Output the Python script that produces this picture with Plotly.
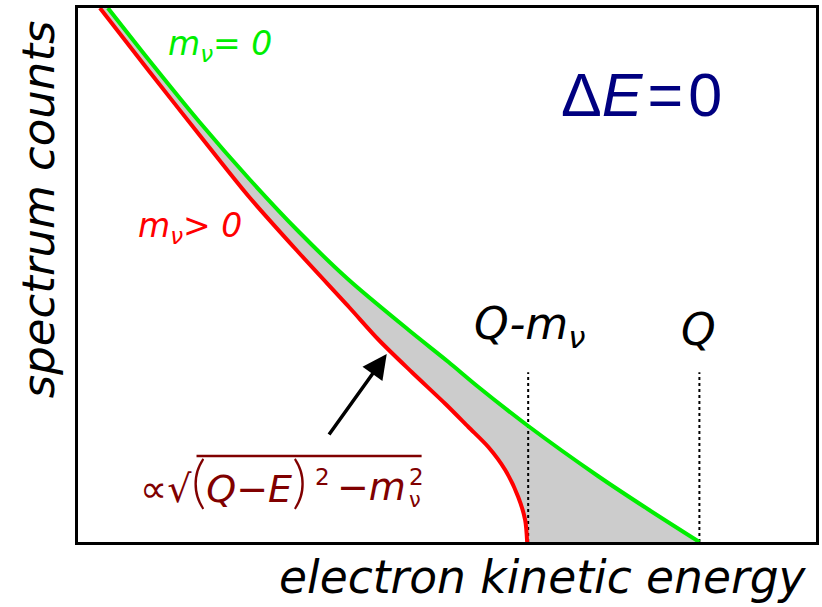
import plotly.graph_objects as go

# ---- data (energy in arbitrary units 0..100, counts 0..100) ----
green_x = [4.05, 9.72, 16.46, 23.21, 29.96, 36.71, 44.80, 50.20, 54.25, 61.00, 70.45, 77.19, 84.20]
green_y = [100.0, 90.07, 78.65, 67.98, 58.05, 49.06, 39.70, 33.71, 29.03, 21.72, 12.36, 6.18, 0.0]

red_x = [2.97, 9.72, 16.46, 23.08, 29.96, 36.71, 40.76, 45.21, 49.80, 52.90, 55.60, 57.89, 59.65, 60.59, 60.86]
red_y = [100.0, 88.01, 76.22, 64.79, 54.12, 44.01, 37.83, 31.84, 25.84, 21.54, 17.79, 13.48, 8.43, 4.12, 0.0]

marker_x = [61.0, 84.2]        # Q - m_nu, Q
marker_top = 31.8

W, H = 822, 607
L, R, T, B = 78, 819, 8, 542

def px(xp):
    return (xp - L) / (R - L) * 100.0

def py(yp):
    return (B - yp) / (B - T) * 100.0

GREEN = "#00ee00"
RED = "#ff0000"
FONT = "DejaVu Sans"
SM = 0.8

fig = go.Figure()

# shaded area between the two spectra (invisible boundary traces)
fig.add_trace(go.Scatter(x=red_x, y=red_y, mode="lines", line=dict(width=0, shape="spline", smoothing=SM),
                         hoverinfo="skip", showlegend=False))
fig.add_trace(go.Scatter(x=green_x, y=green_y, mode="lines", fill="tonexty", fillcolor="#cccccc",
                         line=dict(width=0, shape="spline", smoothing=SM),
                         hoverinfo="skip", showlegend=False))

# dotted markers
for mx in marker_x:
    fig.add_trace(go.Scatter(x=[mx, mx], y=[0, marker_top], mode="lines",
                             line=dict(color="black", width=2, dash="dot"),
                             showlegend=False, hoverinfo="skip"))

fig.add_trace(go.Scatter(x=red_x, y=red_y, mode="lines",
                         line=dict(color=RED, width=4, shape="spline", smoothing=SM), showlegend=False))
fig.add_trace(go.Scatter(x=green_x, y=green_y, mode="lines",
                         line=dict(color=GREEN, width=4, shape="spline", smoothing=SM), showlegend=False))

ann = []

def text(xp, yp, s, size, color="black", xanchor="left", yanchor="bottom", family=FONT, style="italic", angle=0, ref="data"):
    if ref == "data":
        ann.append(dict(x=px(xp), y=py(yp), xref="x", yref="y", text=s, showarrow=False,
                        xanchor=xanchor, yanchor=yanchor, textangle=angle,
                        font=dict(family=family, size=size, color=color, style=style)))
    else:
        ann.append(dict(x=(xp - L) / (R - L), y=(B - yp) / (B - T), xref="paper", yref="paper",
                        text=s, showarrow=False, xanchor=xanchor, yanchor=yanchor, textangle=angle,
                        font=dict(family=family, size=size, color=color, style=style)))

text(166, 69, "m<sub>ν</sub>= 0", 33, GREEN)
text(136, 251, "m<sub>ν</sub>> 0", 33, RED)
text(561, 131, "Δ<i>E</i>\u200a=\u200a0", 61, "#000080", family="Liberation Sans", style="normal")
text(474, 357, "Q-m<sub>ν</sub>", 44)
text(701, 357, "Q", 44, xanchor="center")

# formula
P = "<span style='font-size:58px;font-style:normal;font-family:Lato;font-weight:300'>"
text(138, 516, "∝√" + P + "(</span>Q−E" + P + ")</span>", 38, "#800000")
text(336, 511, "−m", 38, "#800000", xanchor="left")
text(408, 492, "2", 23, "#800000", style="normal")
text(408, 514, "ν", 21, "#800000", style="normal")
text(314, 492, "2", 23, "#800000", style="normal")

# axis labels
text(812, 606, "electron kinetic energy", 45.5, xanchor="right", yanchor="bottom", ref="paper")
text(38, 209, "spectrum counts", 45, xanchor="center", yanchor="middle", angle=-90, ref="paper")

# arrow
ann.append(dict(x=px(388), y=py(354), ax=px(329), ay=py(436), xref="x", yref="y",
                axref="x", ayref="y", text="", showarrow=True, arrowhead=2,
                arrowsize=1.4, arrowwidth=3.5, arrowcolor="black", standoff=0))

fig.update_layout(
    width=W, height=H, margin=dict(l=L, r=W - R, t=T, b=H - B),
    paper_bgcolor="white", plot_bgcolor="white",
    annotations=ann,
    shapes=[dict(type="line", xref="x", yref="y", x0=px(197), x1=px(423), y0=py(456), y1=py(456),
                 line=dict(color="#800000", width=2.5))],
    xaxis=dict(range=[0, 100], showline=True, mirror=True, linewidth=3, linecolor="black",
               showgrid=False, zeroline=False, showticklabels=False, ticks=""),
    yaxis=dict(range=[0, 100], showline=True, mirror=True, linewidth=3, linecolor="black",
               showgrid=False, zeroline=False, showticklabels=False, ticks=""),
)

fig.write_html("out.html")
